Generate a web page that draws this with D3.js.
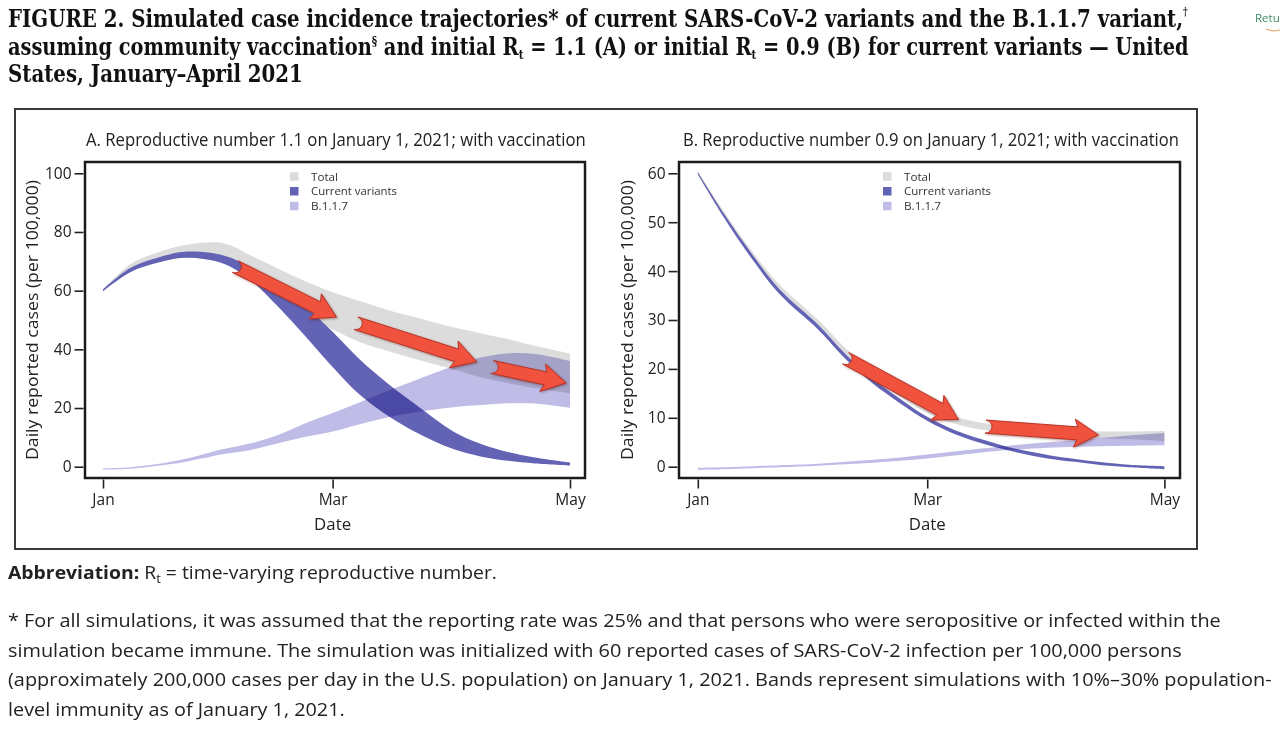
<!DOCTYPE html>
<html><head><meta charset="utf-8">
<script src="https://cdn.jsdelivr.net/npm/d3@7"></script>
<style>
html,body{margin:0;padding:0;background:#fff;width:1280px;height:735px;overflow:hidden}
svg{display:block}
</style></head><body>
<svg id="c" width="1280" height="735"></svg>
<script>
// ---------- DATA ----------
const dates = ["2021-01-01","2021-01-08","2021-01-15","2021-01-22","2021-02-01","2021-02-08","2021-02-15","2021-02-22","2021-03-01","2021-03-08","2021-03-15","2021-03-22","2021-04-01","2021-04-08","2021-04-15","2021-04-22","2021-05-01"];
const monthTicks = ["2021-01-01","2021-03-01","2021-05-01"];
const monthLabels = ["Jan","Mar","May"];
const seriesNames = ["Total","Current variants","B.1.1.7"];

// Panel A: initial Rt = 1.1
const aTicks = [0,20,40,60,80,100];
const aTotalLow  = [59.8,66.3,69.5,71.2,69.5,64.5,58.5,51.5,46.8,42.5,39.5,36.8,33.2,30.5,28.5,26.8,25.0];
const aTotalHigh = [60.4,69.0,73.0,75.6,76.2,72.0,67.5,63.2,59.5,56.5,53.5,51.0,47.5,45.5,43.5,41.2,38.5];
const aCurLow    = [59.8,66.3,69.5,71.2,69.2,63.5,54.5,44.5,34.0,24.5,17.5,12.0,6.0,3.5,2.0,1.1,0.4];
const aCurHigh   = [60.4,67.7,71.2,73.3,72.0,67.8,61.5,54.5,46.0,36.5,28.5,21.5,12.0,7.8,5.0,3.1,1.4];
const aB117Low   = [-1.0,-0.7,0.3,1.6,4.3,5.7,8.0,10.2,12.0,14.5,16.8,18.5,20.3,21.0,21.6,21.5,20.0];
const aB117High  = [-0.6,-0.2,0.9,2.6,6.0,8.0,10.8,14.8,18.3,22.0,25.8,29.3,34.2,37.2,38.6,38.4,36.0];
const aArrowFrom = [["2021-02-04",68.2],["2021-03-07",48.9],["2021-04-11",34.0]];
const aArrowTo   = [["2021-03-02",51.0],["2021-04-07",35.8],["2021-04-30",28.6]];

// Panel B: initial Rt = 0.9
const bTicks = [0,10,20,30,40,50,60];
const bTotalLow  = [59.8,50.8,42.8,35.8,28.6,22.8,18.0,14.3,11.0,8.8,7.6,6.8,6.2,5.9,5.8,5.6,5.2];
const bTotalHigh = [60.4,51.9,44.0,37.2,30.0,24.2,19.4,15.8,12.5,10.2,9.0,8.2,7.6,7.3,7.2,7.2,7.3];
const bCurLow    = [59.8,50.6,42.4,35.3,28.0,22.0,17.0,13.0,9.4,6.7,4.8,3.3,1.7,1.0,0.3,-0.1,-0.5];
const bCurHigh   = [60.2,51.4,43.4,36.3,29.0,23.0,18.0,13.9,10.2,7.5,5.6,4.0,2.4,1.6,0.9,0.4,0.1];
const bB117Low   = [-0.6,-0.5,-0.3,-0.1,0.2,0.5,0.8,1.2,1.7,2.3,2.9,3.4,3.9,4.1,4.2,4.3,4.4];
const bB117High  = [-0.2,-0.1,0.1,0.3,0.6,1.0,1.4,1.9,2.5,3.1,3.7,4.3,5.0,5.4,5.9,6.4,6.9];
const bArrowFrom = [["2021-02-08",22.2],["2021-03-16",8.2]];
const bArrowTo   = [["2021-03-09",9.7],["2021-04-14",6.5]];

// ---------- SETUP ----------
const svg = d3.select("#c");
const parse = d3.utcParse("%Y-%m-%d");
const SANS = "'Open Sans', 'Noto Sans', sans-serif";
const SERIF = "'DejaVu Serif Condensed', 'DejaVu Serif', serif";
const colTotal = "#dcdcdc", colCur = "#6363b5", colB117 = "#bfbce8";
const ink = "#222";

function fitted(parent, x, y, w, build, opts={}) {
  const g = parent.append("g");
  const t = g.append("text").attr("x",0).attr("y",0)
    .attr("text-anchor", opts.anchor || "start");
  build(t);
  const bw = t.node().getBBox().width;
  const k = w / bw;
  g.attr("transform", `translate(${x},${y})` + (opts.rotate ? ` rotate(${opts.rotate})` : "") + ` scale(${k},1)`);
  return g;
}

// ---------- TITLE ----------
function titleLine(y, w, build){
  fitted(svg, 8, y, w, t => { t.attr("font-family",SERIF).attr("font-weight","bold").attr("font-size",24.5).attr("fill","#111"); build(t); });
}
titleLine(26.5, 1180, t => {
  t.append("tspan").text("FIGURE 2. Simulated case incidence trajectories* of current SARS-CoV-2 variants and the B.1.1.7 variant,");
  t.append("tspan").attr("font-size",11).attr("dy",-12).text("†");
});
titleLine(54.5, 1181, t => {
  t.append("tspan").text("assuming community vaccination");
  t.append("tspan").attr("font-size",13).attr("dy",-9).text("§");
  t.append("tspan").attr("dy",9).text(" and initial R");
  t.append("tspan").attr("font-size",13).attr("dy",4).text("t");
  t.append("tspan").attr("dy",-4).text(" = 1.1 (A) or initial R");
  t.append("tspan").attr("font-size",13).attr("dy",4).text("t");
  t.append("tspan").attr("dy",-4).text(" = 0.9 (B) for current variants — United");
});
titleLine(82, 295, t => { t.append("tspan").text("States, January–April 2021"); });

// "Return" link fragment top right (clipped in the reference)
svg.append("text").attr("x",1255).attr("y",22).attr("font-family",SANS).attr("font-size",11.5)
  .attr("fill","#3f8a66").text("Retu");
svg.append("path").attr("d","M1266,29 Q1273,32 1280,30").attr("fill","none").attr("stroke","#e3a76a").attr("stroke-width",1.2);

// outer box
svg.append("rect").attr("x",15).attr("y",109).attr("width",1182).attr("height",440)
  .attr("fill","none").attr("stroke","#3a3a3a").attr("stroke-width",2);

// ---------- PANELS ----------
function arrowPath(p1, p2, sw=13, hw=28, hl=21){
  const [x1,y1]=p1,[x2,y2]=p2;
  const dx=x2-x1, dy=y2-y1, L=Math.hypot(dx,dy), ux=dx/L, uy=dy/L, px=-uy, py=ux;
  const bx=x2-ux*hl, by=y2-uy*hl;
  const pts=[[x1+px*sw/2,y1+py*sw/2],[bx+px*sw/2,by+py*sw/2],[bx+px*hw/2-ux*3,by+py*hw/2-uy*3],[x2,y2],
             [bx-px*hw/2-ux*3,by-py*hw/2-uy*3],[bx-px*sw/2,by-py*sw/2],[x1-px*sw/2,y1-py*sw/2]];
  return "M"+pts.map(p=>p.map(v=>v.toFixed(1)).join(",")).join("L")+
    `A${sw/2},${sw/2} 0 0 1 ${pts[0][0].toFixed(1)},${pts[0][1].toFixed(1)}Z`;
}

function panel(cfg){
  const g = svg.append("g");
  const x = d3.scaleUtc().domain([parse(monthTicks[0]), parse(monthTicks[2])]).range(cfg.xr);
  const y = d3.scaleLinear().domain([0, cfg.ymax]).range([466.7, 173.3]);
  const rows = dates.map((d,i)=>({date:parse(d), tl:cfg.tl[i], th:cfg.th[i], cl:cfg.cl[i], ch:cfg.ch[i], bl:cfg.bl[i], bh:cfg.bh[i]}));
  const area = (lo,hi) => d3.area().x(d=>x(d.date)).y0(d=>y(d[lo])).y1(d=>y(d[hi])).curve(d3.curveCatmullRom.alpha(0.5));

  g.append("path").datum(rows).attr("d", area("tl","th")).attr("fill", colTotal);
  g.append("path").datum(rows).attr("d", area("cl","ch")).attr("fill", colCur);
  g.append("path").datum(rows).attr("d", area("bl","bh")).attr("fill", colB117).style("mix-blend-mode","multiply");

  // arrows
  cfg.af.forEach((f,i)=>{
    const p1=[x(parse(f[0])), y(f[1])], p2=[x(parse(cfg.at[i][0])), y(cfg.at[i][1])];
    g.append("path").attr("d", arrowPath(p1,p2)).attr("fill","#f0523d")
      .attr("stroke","#b93325").attr("stroke-width",1).attr("stroke-linejoin","round")
      .style("filter","drop-shadow(1px 1px 1px rgba(90,20,10,0.45))");
  });

  // frame
  g.append("rect").attr("x",cfg.fx).attr("y",162).attr("width",cfg.fw).attr("height",316)
    .attr("fill","none").attr("stroke","#1b1b1b").attr("stroke-width",2.5);

  // y axis
  const ya = g.append("g").attr("transform",`translate(${cfg.fx-1.5},0)`)
    .call(d3.axisLeft(y).tickValues(cfg.yt).tickSize(9).tickPadding(3).tickFormat(d3.format("d")));
  ya.select(".domain").remove();
  ya.selectAll("line").attr("stroke",ink).attr("stroke-width",1.6);
  ya.selectAll("text").attr("font-family",SANS).attr("font-size",15.5).attr("fill",ink);

  // x axis
  const xa = g.append("g").attr("transform","translate(0,479.5)")
    .call(d3.axisBottom(x).tickValues(monthTicks.map(parse)).tickSize(9).tickPadding(5)
      .tickFormat((d,i)=>monthLabels[i]));
  xa.select(".domain").remove();
  xa.selectAll("line").attr("stroke",ink).attr("stroke-width",1.6);
  xa.selectAll("text").attr("font-family",SANS).attr("font-size",15.5).attr("fill",ink);

  // axis titles
  fitted(g, x(parse(monthTicks[1])), 530, 37, t=>t.attr("font-family",SANS).attr("font-size",17).attr("fill",ink).text("Date"), {anchor:"middle"});
  fitted(g, cfg.ytx, 320, 280, t=>t.attr("font-family",SANS).attr("font-size",17).attr("fill",ink).text("Daily reported cases (per 100,000)"), {anchor:"middle", rotate:-90});

  // panel title
  fitted(g, cfg.ttx, 145.5, cfg.ttw, t=>t.attr("font-family",SANS).attr("font-size",18).attr("fill",ink).text(cfg.title));

  // legend
  const cols=[colTotal,colCur,colB117];
  seriesNames.forEach((n,i)=>{
    const yy = 176.5 + i*14.8;
    g.append("rect").attr("x",cfg.lx).attr("y",yy-4.3).attr("width",8.5).attr("height",8.5).attr("fill",cols[i]);
    const w = {0:27,1:cfg.lw,2:37}[i];
    fitted(g, cfg.lx+21, yy+4.1, w, t=>t.attr("font-family",SANS).attr("font-size",10.7).attr("fill","#333").text(n));
  });
}

panel({xr:[103,570], ymax:100, yt:aTicks, tl:aTotalLow, th:aTotalHigh, cl:aCurLow, ch:aCurHigh, bl:aB117Low, bh:aB117High,
  af:aArrowFrom, at:aArrowTo, fx:85, fw:500, ytx:38, ttx:86, ttw:500, lx:290, lw:86,
  title:"A. Reproductive number 1.1 on January 1, 2021; with vaccination"});
panel({xr:[697.8,1164.4], ymax:60, yt:bTicks, tl:bTotalLow, th:bTotalHigh, cl:bCurLow, ch:bCurHigh, bl:bB117Low, bh:bB117High,
  af:bArrowFrom, at:bArrowTo, fx:679, fw:501, ytx:633, ttx:683, ttw:496, lx:883, lw:87,
  title:"B. Reproductive number 0.9 on January 1, 2021; with vaccination"});

// ---------- FOOTNOTES ----------
fitted(svg, 8, 579, 489, t=>{
  t.attr("font-family",SANS).attr("font-size",18).attr("fill","#222");
  t.append("tspan").attr("font-weight","bold").text("Abbreviation:");
  t.append("tspan").text(" R");
  t.append("tspan").attr("font-size",12).attr("dy",4).text("t");
  t.append("tspan").attr("dy",-4).text(" = time-varying reproductive number.");
});
const foot = [
  ["* For all simulations, it was assumed that the reporting rate was 25% and that persons who were seropositive or infected within the", 1214],
  ["simulation became immune. The simulation was initialized with 60 reported cases of SARS-CoV-2 infection per 100,000 persons", 1174],
  ["(approximately 200,000 cases per day in the U.S. population) on January 1, 2021. Bands represent simulations with 10%–30% population-", 1264],
  ["level immunity as of January 1, 2021.", 337]
];
foot.forEach((f,i)=>{
  fitted(svg, 8, 627 + i*29.7, f[1], t=>t.attr("font-family",SANS).attr("font-size",18).attr("fill","#222").text(f[0]));
});
</script>
</body></html>
